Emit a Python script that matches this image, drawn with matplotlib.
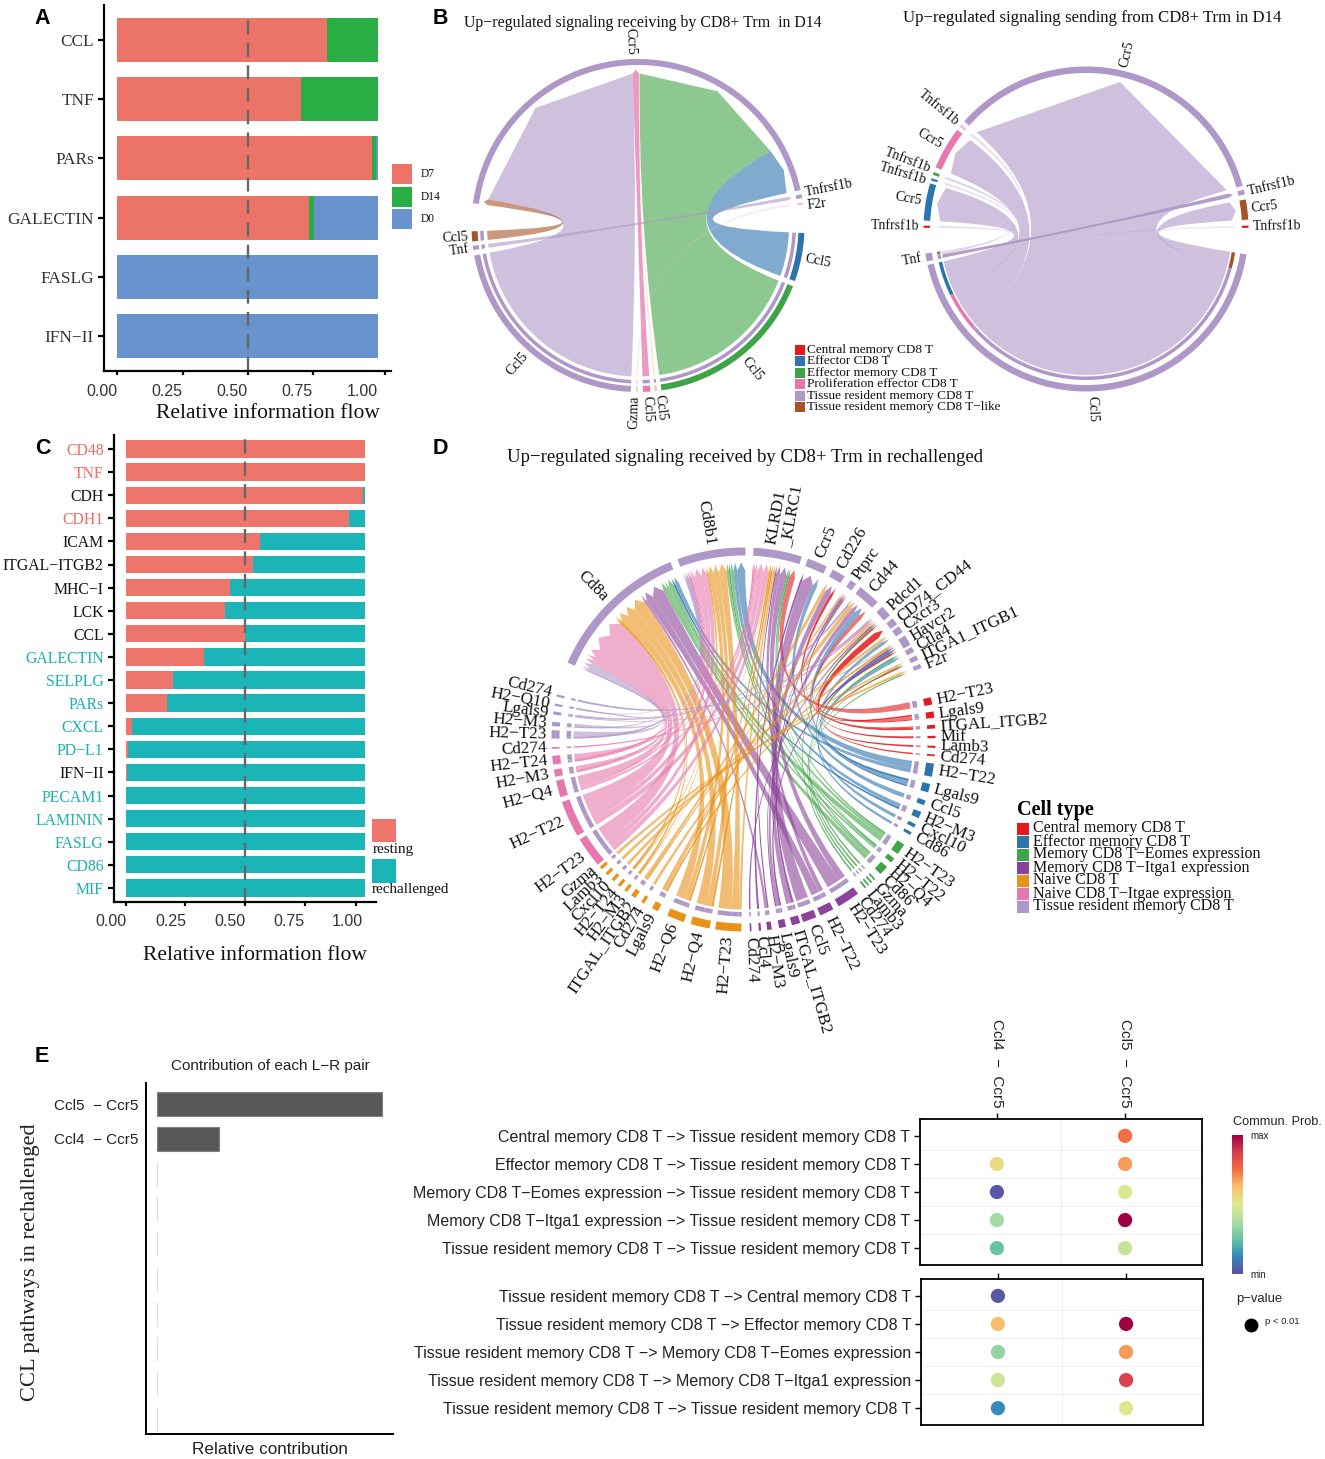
import numpy as np
import matplotlib
matplotlib.use("Agg")
import matplotlib.pyplot as plt
from matplotlib.colors import LinearSegmentedColormap
from matplotlib.patches import Polygon, PathPatch, Rectangle
from matplotlib.path import Path
from matplotlib.transforms import ScaledTranslation

W, H = 1325, 1459
SERIF = "Liberation Serif"
SANS = "Liberation Sans"
plt.rcParams["font.family"] = [SERIF, "DejaVu Sans"]

# ---- panel A
a_names = ["CCL", "TNF", "PARs", "GALECTIN", "FASLG", "IFN\u2212II"]
a_d7 = [0.802, 0.702, 0.974, 0.734, 0, 0]
a_d14 = [0.198, 0.298, 0.019, 0.019, 0, 0]
a_d0 = [0, 0, 0.007, 0.247, 1, 1]

# ---- panel C
c_names = ["CD48", "TNF", "CDH", "CDH1", "ICAM", "ITGAL\u2212ITGB2", "MHC\u2212I", "LCK", "CCL",
           "GALECTIN", "SELPLG", "PARs", "CXCL", "PD\u2212L1", "IFN\u2212II", "PECAM1", "LAMININ",
           "FASLG", "CD86", "MIF"]
c_resting = [1, 1, 0.993, 0.937, 0.563, 0.531, 0.437, 0.416, 0.5, 0.327, 0.198, 0.172, 0.027,
             0.01, 0.006, 0, 0, 0, 0, 0]
c_label_col = ["r", "r", "k", "r", "k", "k", "k", "k", "k", "t", "t", "t", "t", "t", "k", "t", "t", "t", "t", "t"]

# ---- panel E
e_pairs = ["Ccl5  \u2212 Ccr5", "Ccl4  \u2212 Ccr5", "", "", "", "", "", "", "", ""]
e_contrib = [1, 0.275, 0, 0, 0, 0, 0, 0, 0, 0]

# ---- bubble plot
to_trm = ["Central memory CD8 T \u2212> Tissue resident memory CD8 T",
          "Effector memory CD8 T \u2212> Tissue resident memory CD8 T",
          "Memory CD8 T\u2212Eomes expression \u2212> Tissue resident memory CD8 T",
          "Memory CD8 T\u2212Itga1 expression \u2212> Tissue resident memory CD8 T",
          "Tissue resident memory CD8 T \u2212> Tissue resident memory CD8 T"]
from_trm = ["Tissue resident memory CD8 T \u2212> Central memory CD8 T",
            "Tissue resident memory CD8 T \u2212> Effector memory CD8 T",
            "Tissue resident memory CD8 T \u2212> Memory CD8 T\u2212Eomes expression",
            "Tissue resident memory CD8 T \u2212> Memory CD8 T\u2212Itga1 expression",
            "Tissue resident memory CD8 T \u2212> Tissue resident memory CD8 T"]
lr_pairs = ["Ccl4  \u2212  Ccr5", "Ccl5  \u2212  Ccr5"]
to_ccl4 = [np.nan, 0.55, 0.02, 0.36, 0.25]
to_ccl5 = [0.75, 0.68, 0.49, 1.0, 0.44]
from_ccl4 = [0.02, 0.63, 0.33, 0.45, 0.13]
from_ccl5 = [np.nan, 1.0, 0.68, 0.86, 0.5]
prob_colors = ["#5E4FA2", "#3288BD", "#66C2A5", "#ABDDA4", "#DFE88F", "#F9C26E", "#F46D43", "#D53E4F", "#9E0142"]

# ---- chord colours
cols = {"cm": "#E41A1C", "ef": "#2C74AE", "em": "#3FA447", "dp": "#8B4399", "or": "#E8921A",
        "pr": "#E678AD", "tr": "#AF97C7", "tl": "#A5532A", "po": "#F3C9A0", "pp": "#F3C0D8"}

# ---- chord B left (degrees, counterclockwise from east)
bl_names = ["Ccr5", "Tnfrsf1b", "F2r", "Ccl5", "Ccl5", "Ccl5", "Ccl5", "Gzma", "Ccl5", "Tnf", "Ccl5"]
bl_lo = [12.3, 9.5, 7.2, -19.5, -81.9, -84.2, -88.3, -90.6, 190.4, 187, 182]
bl_hi = [172.3, 10.8, 8.0, -2.6, -21.4, -83.4, -85.7, -90.1, 267.5, 188.5, 185.5]
bl_type = ["tr", "tr", "pp", "ef", "em", "po", "pr", "pp", "tr", "tr", "tl"]
bl_from = [8, 10, 5, 4, 3, 6, 9, 7]
bl_to = [0, 0, 0, 0, 0, 0, 1, 2]
bl_val = [78, 2.2, 0.3, 60, 17, 2.4, 1.2, 0.4]
bl_alpha = [0.6, 0.6, 0.4, 0.6, 0.6, 0.75, 0.6, 0.35]

# ---- chord B right
br_names = ["Ccr5", "Tnfrsf1b", "Ccr5", "Tnfrsf1b", "Tnfrsf1b", "Ccr5", "Tnfrsf1b", "Tnf", "Ccl5",
            "Tnfrsf1b", "Ccr5", "Tnfrsf1b"]
br_lo = [15.4, 140, 142.4, 159.5, 161.8, 163.7, 178.8, 188.7, 192.8, 0.4, 3.3, 12.3]
br_hi = [138.5, 141, 157.7, 160.5, 162.6, 177, 179.6, 191.5, 351, 1.2, 10.5, 14]
br_type = ["tr", "pp", "pr", "em", "ef", "ef", "cm", "tr", "tr", "cm", "tl", "tr"]
br_from = [8, 8, 8, 8, 7, 7, 7, 7, 7, 7]
br_to = [0, 2, 5, 10, 1, 3, 4, 6, 9, 11]
br_val = [122, 15, 13, 6, 0.2, 0.5, 0.2, 0.2, 0.1, 1.2]
br_alpha = [0.6, 0.6, 0.6, 0.6, 0.3, 0.4, 0.3, 0.3, 0.2, 0.95]

# ---- chord D
d_names = ["Cd8a", "Cd8b1", "KLRD1\n_KLRC1", "Ccr5", "Cd226", "Ptprc", "Cd44", "Pdcd1", "CD74_CD44", "Cxcr3",
           "Havcr2", "Ctla4", "ITGA1_ITGB1", "F2r",
           "H2\u2212T23", "Lgals9", "ITGAL_ITGB2", "Mif", "Lamb3", "Cd274",
           "H2\u2212T22", "Lgals9", "Ccl5", "H2\u2212M3", "Cxcl10", "Cd86",
           "H2\u2212T23", "H2\u2212T22", "H2\u2212Q4", "Cd86", "Gzma", "Lamb3", "Cd274",
           "H2\u2212T23", "H2\u2212T22", "Ccl5", "ITGAL_ITGB2", "Lgals9", "H2\u2212M3", "Ccl4", "Cd274",
           "H2\u2212T23", "H2\u2212Q4", "H2\u2212Q6", "Lgals9", "Cd274", "ITGAL_ITGB2", "H2\u2212M3", "H2\u2212T24",
           "Cxcl10", "Lamb3", "Gzma",
           "H2\u2212T23", "H2\u2212T22", "H2\u2212Q4", "H2\u2212M3", "H2\u2212T24", "Cd274",
           "H2\u2212T23", "H2\u2212M3", "Lgals9", "H2\u2212Q10", "Cd274"]
d_lo = [112.4, 89.4, 72.3, 64.3, 58.2, 54.1, 45.7, 40.25, 36.9, 34, 29.6, 27.2, 24.5, 21.9,
        10.5, 6.5, 3.3, 0.4, -2.5, -5,
        -11.2, -16, -20, -24.2, -27.3, -29.8,
        -36.6, -39.8, -44.5, -47.1, -48.4, -49.6, -50.8,
        -60.3, -66.4, -71.9, -75.4, -79.3, -82.9, -85.4, -88.1,
        -98.5, -106, -113.4, -118.5, -122.2, -125.8, -128.4, -130.9, -133.4, -135.95, -138.45,
        -148.6, -161, -167.6, -171, -175.1, -177.7,
        177.2, 174.7, 171.6, 169.2, 166.4]
d_hi = [156.4, 110.1, 87, 70.4, 62.3, 56.1, 52.5, 43.75, 39.1, 36.1, 32.8, 28.8, 26, 23.2,
        12.7, 8.4, 4.4, 1.1, -1.9, -4.5,
        -7.2, -13.4, -18.5, -22.2, -26.2, -28.9,
        -33.2, -38.3, -41.6, -46.6, -47.9, -49.1, -50.3,
        -53.4, -62.1, -67.7, -72.8, -77.2, -81.5, -84.7, -87.6,
        -90.6, -100.2, -108.1, -116.5, -121.2, -124.3, -127.4, -129.9, -132.4, -134.95, -137.45,
        -139.3, -149.9, -162.5, -168.8, -172.5, -177.2,
        179.7, 176, 172.5, 169.9, 167.1]
d_type = ["tr"] * 14 + ["cm"] * 6 + ["ef"] * 6 + ["em"] * 7 + ["dp"] * 8 + ["or"] * 11 + ["pr"] * 6 + ["tr"] * 5

# how each ligand's signal splits over the receptors
h2_split = {"pr": [0.6, 0.2, 0.2], "or": [0.57, 0.31, 0.12], "dp": [0.65, 0, 0.35], "em": [0.55, 0.3, 0.15],
            "ef": [0.35, 0.65, 0], "cm": [0, 0, 1], "tr": [0.7, 0.3, 0]}
other_split = {"Ccl5": {"Ccr5": 1}, "Ccl4": {"Ccr5": 1},
               "Lgals9": {"Ptprc": 0.2, "Cd44": 0.5, "Havcr2": 0.3},
               "Cd274": {"Pdcd1": 1}, "ITGAL_ITGB2": {"Cd226": 0.7, "Ptprc": 0.3}, "Mif": {"CD74_CD44": 1},
               "Cxcl10": {"Cxcr3": 1}, "Cd86": {"Ctla4": 1}, "Gzma": {"F2r": 1}, "Lamb3": {"ITGA1_ITGB1": 1}}
d_from, d_to, d_val = [], [], []
for i in range(14, len(d_names)):
    span = d_hi[i] - d_lo[i]
    if d_names[i].startswith("H2"):
        for j, f in enumerate(h2_split[d_type[i]]):
            if f > 0:
                d_from.append(i); d_to.append(j); d_val.append(span * f)
    else:
        for rec, f in other_split[d_names[i]].items():
            d_from.append(i); d_to.append(d_names.index(rec)); d_val.append(span * f)
d_alpha = [0.6 if v > 0.8 else 0.85 for v in d_val]

bl_legend = ["Central memory CD8 T", "Effector CD8 T", "Effector memory CD8 T", "Proliferation effector CD8 T",
             "Tissue resident memory CD8 T", "Tissue resident memory CD8 T\u2212like"]
bl_legend_col = ["cm", "ef", "em", "pr", "tr", "tl"]
d_legend = ["Central memory CD8 T", "Effector memory CD8 T", "Memory CD8 T\u2212Eomes expression",
            "Memory CD8 T\u2212Itga1 expression", "Naive CD8 T", "Naive CD8 T\u2212Itgae expression",
            "Tissue resident memory CD8 T"]
d_legend_col = ["cm", "ef", "em", "dp", "or", "pr", "tr"]

fig = plt.figure(figsize=(W / 100, H / 100), dpi=100)


def px_axes(l, t, r, b):
    return fig.add_axes([l / W, 1 - b / H, (r - l) / W, (b - t) / H])


# page axes in pixel coordinates, for chords, panel letters and legends
page = fig.add_axes([0, 0, 1, 1])
page.set_xlim(0, W)
page.set_ylim(H, 0)
page.axis("off")
page.set_zorder(5)


def txt(x, y, s, **kw):
    kw.setdefault("ha", "left")
    kw.setdefault("va", "center")
    page.text(x, y, s, **kw)


def xy(cx, cy, r, a):
    a = np.radians(a)
    return cx + r * np.cos(a), cy - r * np.sin(a)


def ring(cx, cy, r0, r1, lo, hi, color):
    a = np.linspace(lo, hi, max(int(hi - lo) * 2, 4))
    x0, y0 = xy(cx, cy, r1, a)
    x1, y1 = xy(cx, cy, r0, a[::-1])
    page.add_patch(Polygon(np.c_[np.r_[x0, x1], np.r_[y0, y1]], fc=color, ec="none"))


def link(cx, cy, a_lo, a_hi, b_lo, b_hi, rad, color, alpha):
    # sender arc, then a curve through the centre to the arrow on the receiver
    a = np.linspace(a_lo, a_hi, max(int(a_hi - a_lo) * 2, 2))
    sx, sy = xy(cx, cy, rad["src"], a)
    verts = list(zip(sx, sy))
    codes = [Path.MOVETO] + [Path.LINETO] * (len(a) - 1)
    verts += [(cx, cy), xy(cx, cy, rad["base"], b_lo)]
    codes += [Path.CURVE3, Path.CURVE3]
    verts += [xy(cx, cy, rad["tip"], (b_lo + b_hi) / 2), xy(cx, cy, rad["base"], b_hi)]
    codes += [Path.LINETO, Path.LINETO]
    verts += [(cx, cy), (sx[0], sy[0])]
    codes += [Path.CURVE3, Path.CURVE3]
    page.add_patch(PathPatch(Path(verts, codes), fc=color, ec="none", alpha=alpha))


def spread(mids, sep):
    # push crowded label angles apart
    ang = np.array(mids, dtype=float) % 360
    order = np.argsort(ang)
    for _ in range(30):
        for p, q in zip(order[:-1], order[1:]):
            d = ang[q] - ang[p]
            if d < sep:
                ang[p] -= (sep - d) / 2
                ang[q] += (sep - d) / 2
    return ang


def chord(cx, cy, names, lo, hi, types, l_from, l_to, l_val, l_alpha, rad, start, fs, gap, sep):
    mids = [(a + b) / 2 for a, b in zip(lo, hi)]
    n = len(l_val)
    a_lo, a_hi, b_lo, b_hi = [0] * n, [0] * n, [0] * n, [0] * n
    for s in set(l_from):
        ids = sorted([k for k in range(n) if l_from[k] == s], key=lambda k: (start - mids[l_to[k]]) % 360)
        tot = sum(l_val[k] for k in ids)
        pos = lo[s]
        for k in ids:
            a_lo[k] = pos
            pos += l_val[k] / tot * (hi[s] - lo[s])
            a_hi[k] = pos
    for t in set(l_to):
        ids = sorted([k for k in range(n) if l_to[k] == t], key=lambda k: (mids[l_from[k]] - start) % 360)
        tot = sum(l_val[k] for k in ids)
        pos = hi[t]
        for k in ids:
            b_hi[k] = pos
            pos -= l_val[k] / tot * (hi[t] - lo[t])
            b_lo[k] = pos
    lab_ang = spread(mids, sep)
    for i in range(len(names)):
        ring(cx, cy, rad["o0"], rad["o1"], lo[i], hi[i], cols[types[i]])
        m = lab_ang[i]
        x, y = xy(cx, cy, rad["o1"] + gap, m)
        if np.cos(np.radians(m)) >= 0:
            rot, ha = (m + 180) % 360 - 180, "left"
        else:
            rot, ha = m - 180, "right"
        page.text(x, y, names[i], rotation=rot, ha=ha, va="center", rotation_mode="anchor", fontsize=fs,
                  linespacing=0.9, color="#111111")
    for k in range(n):
        link(cx, cy, a_lo[k], a_hi[k], b_lo[k], b_hi[k], rad, cols[types[l_from[k]]], l_alpha[k])
        ring(cx, cy, rad["i0"], rad["i1"], a_lo[k], a_hi[k], cols[types[l_to[k]]])


chord(638, 225.5, bl_names, bl_lo, bl_hi, bl_type, bl_from, bl_to, bl_val, bl_alpha,
      dict(o0=160.5, o1=166.5, i0=154.5, i1=158, src=151, base=152, tip=156), 180, 10, 4, 4.2)
chord(1086, 229, br_names, br_lo, br_hi, br_type, br_from, br_to, br_val, br_alpha,
      dict(o0=156, o1=162.5, i0=147.5, i1=151, src=146, base=146, tip=151), 180, 10, 4, 4.2)
chord(743.5, 739.5, d_names, d_lo, d_hi, d_type, d_from, d_to, d_val, d_alpha,
      dict(o0=184, o1=192, i0=172.5, i1=177, src=170, base=169, tip=177), 160, 12.3, 5, 3)

txt(643, 23, "Up\u2212regulated signaling receiving by CD8+ Trm  in D14", ha="center", fontsize=11.45, color="#111111")
txt(1092, 17.5, "Up\u2212regulated signaling sending from CD8+ Trm in D14", ha="center", fontsize=12.1, color="#111111")
txt(745, 457, "Up\u2212regulated signaling received by CD8+ Trm in rechallenged", ha="center", fontsize=13.5, color="#111111")

# panel letters
for x, y, s in [(42, 19, "A"), (440, 19, "B"), (43, 449, "C"), (440, 449, "D"), (42, 1056, "E")]:
    txt(x, y, s, ha="center", family=SANS, fontweight="bold", fontsize=15.5, color="black")

# chord legends
for i, (s, c) in enumerate(zip(bl_legend, bl_legend_col)):
    yy = 350 + i * 11.4
    page.add_patch(Rectangle((795, yy - 5), 10, 10, fc=cols[c], ec="none"))
    txt(807, yy, s, fontsize=9.5, color="#111111")
txt(1017, 810, "Cell type", fontsize=14.5, fontweight="bold", color="black")
for i, (s, c) in enumerate(zip(d_legend, d_legend_col)):
    yy = 828.5 + i * 13
    page.add_patch(Rectangle((1017, yy - 5.5), 11.5, 11.5, fc=cols[c], ec="none"))
    txt(1033, yy, s, fontsize=11.5, color="#111111")


def style_axes(ax, ticks, labels, offsets, lw=1.6):
    for s in ["top", "right"]:
        ax.spines[s].set_visible(False)
    for s in ["left", "bottom"]:
        ax.spines[s].set_linewidth(lw)
    ax.set_xticks(ticks)
    ax.set_xticklabels(labels, family=SANS, fontsize=11.5, color="#333333")
    ax.tick_params(axis="both", length=4, width=1.6)
    ax.tick_params(axis="x", length=3, pad=6)
    for lab, dx in zip(ax.get_xticklabels(), offsets):
        lab.set_transform(lab.get_transform() + ScaledTranslation(dx / 100, 0, fig.dpi_scale_trans))


# ---- panel A
ax = px_axes(104.3, 5, 390.7, 371)
y = np.arange(len(a_names))
ax.barh(y, a_d7, height=0.745, color="#EC7368")
ax.barh(y, a_d14, left=a_d7, height=0.745, color="#29AE44")
ax.barh(y, a_d0, left=np.add(a_d7, a_d14), height=0.745, color="#6893CC")
ax.set_xlim(-13 / 261, 273.4 / 261)
ax.set_ylim((371 - 40) / 59.2, (5 - 40) / 59.2)
ax.set_yticks(y)
ax.set_yticklabels(a_names, fontsize=12.4, color="#333333")
style_axes(ax, [0, 0.25, 0.5, 0.75, 1.0245], ["0.00", "0.25", "0.50", "0.75", "1.00"], [-15.7, -16, -16, -16.5, -22])
ax.axvline(0.5, ymin=0, ymax=0.975, color="#666666", lw=1.7, dashes=(6, 3.5))
txt(268, 414, "Relative information flow", ha="center", fontsize=15.5, color="#111111")
for i, (s, c) in enumerate(zip(["D7", "D14", "D0"], ["#EC7368", "#29AE44", "#6893CC"])):
    yy = 174 + i * 22.5
    page.add_patch(Rectangle((392, yy - 10), 20, 20, fc=c, ec="none"))
    txt(421, yy, s, fontsize=8.3, color="#111111")

# ---- panel C
ax = px_axes(114, 435, 376, 902)
y = np.arange(len(c_names))
ax.barh(y, c_resting, height=0.745, color="#EE756B")
ax.barh(y, 1 - np.array(c_resting), left=c_resting, height=0.745, color="#1BB5B8")
ax.set_xlim(-11.7 / 238.8, 250.3 / 238.8)
ax.set_ylim((902 - 449) / 23.1, (435 - 449) / 23.1)
ax.set_yticks(y)
ax.set_yticklabels(c_names, fontsize=11.3)
label_colors = {"r": "#EE6A60", "k": "#111111", "t": "#1BB0B3"}
for lab, c in zip(ax.get_yticklabels(), c_label_col):
    lab.set_color(label_colors[c])
style_axes(ax, [0, 0.25, 0.5, 0.75, 0.966], ["0.00", "0.25", "0.50", "0.75", "1.00"], [-15, -15, -15, -15.5, -9.5])
ax.axvline(0.5, color="#666666", lw=1.7, dashes=(6, 3.5))
txt(255, 955, "Relative information flow", ha="center", fontsize=15.5, color="#111111")
page.add_patch(Rectangle((372, 818.5), 24, 23.5, fc="#EE756B", ec="none"))
page.add_patch(Rectangle((372, 859), 24, 23.5, fc="#1BB5B8", ec="none"))
txt(373, 849, "resting", fontsize=10.9, color="#111111")
txt(372, 890, "rechallenged", fontsize=10.9, color="#111111")

# ---- panel E
ax = px_axes(146, 1083, 393, 1434)
y = np.arange(len(e_pairs))
ax.barh(y, e_contrib, height=0.68, color="#595959", edgecolor=["#808080"] * 2 + ["#dddddd"] * 8, lw=0.8)
ax.set_xlim(-11.3 / 225, 235.7 / 225)
ax.set_ylim((1434 - 1104) / 35, (1083 - 1104) / 35)
ax.set_yticks([0, 1])
ax.set_yticklabels(e_pairs[:2], family=SANS, fontsize=11, color="#222222")
ax.set_xticks([])
ax.tick_params(axis="y", length=0, pad=5.5)
for s in ["top", "right"]:
    ax.spines[s].set_visible(False)
for s in ["left", "bottom"]:
    ax.spines[s].set_linewidth(1.4)
txt(270, 1066, "Contribution of each L\u2212R pair", ha="center", family=SANS, fontsize=11, color="#222222")
txt(270, 1449, "Relative contribution", ha="center", family=SANS, fontsize=12.3, color="#222222")
txt(31, 1262, "CCL pathways in rechallenged", ha="center", rotation=90, fontsize=16.2, color="#222222")

# ---- bubble plot
prob_cmap = LinearSegmentedColormap.from_list("prob", prob_colors)


def bubbles(box, rows, v4, v5, top_labels):
    ax = px_axes(*box)
    y = np.arange(5)
    sc = ax.scatter([0] * 5, y, c=v4, cmap=prob_cmap, vmin=0, vmax=1, s=105, lw=0, zorder=3)
    ax.scatter([1] * 5, y, c=v5, cmap=prob_cmap, vmin=0, vmax=1, s=105, lw=0, zorder=3)
    ax.set_xlim(-0.6, 1.6)
    ax.set_ylim(4.6, -0.6)
    ax.set_yticks(y)
    ax.set_yticklabels(rows, family=SANS, fontsize=11.5, color="#222222")
    ax.set_xticks([0, 1])
    ax.xaxis.tick_top()
    if top_labels:
        ax.set_xticklabels(lr_pairs, family=SANS, fontsize=11, rotation=270, color="#222222")
    else:
        ax.set_xticklabels([])
    ax.tick_params(length=4, width=1, pad=3)
    ax.tick_params(axis="x", pad=4)
    ax.set_xticks([0.5], minor=True)
    ax.set_yticks(y[:-1] + 0.5, minor=True)
    ax.tick_params(which="minor", length=0)
    ax.grid(which="minor", color="#f0f0f0", lw=0.8)
    ax.set_axisbelow(True)
    for s in ax.spines.values():
        s.set_linewidth(1.3)
    return sc


sc = bubbles((920, 1119, 1202, 1265), to_trm, to_ccl4, to_ccl5, True)
bubbles((921, 1279, 1203, 1425), from_trm, from_ccl4, from_ccl5, False)
cax = px_axes(1232, 1135, 1243, 1274)
cb = fig.colorbar(sc, cax=cax)
cb.set_ticks([])
cb.outline.set_visible(False)
txt(1277, 1122, "Commun. Prob.", ha="center", family=SANS, fontsize=9.2, color="#222222")
txt(1250, 1136, "max", family=SANS, fontsize=7, color="#222222")
txt(1250, 1275, "min", family=SANS, fontsize=7, color="#222222")
txt(1259, 1299, "p\u2212value", ha="center", family=SANS, fontsize=9.4, color="#222222")
page.scatter([1250.5], [1325], s=100, color="black", lw=0)
txt(1265, 1322, "p < 0.01", family=SANS, fontsize=6.8, color="#222222")

fig.savefig("out.png", dpi=100)
